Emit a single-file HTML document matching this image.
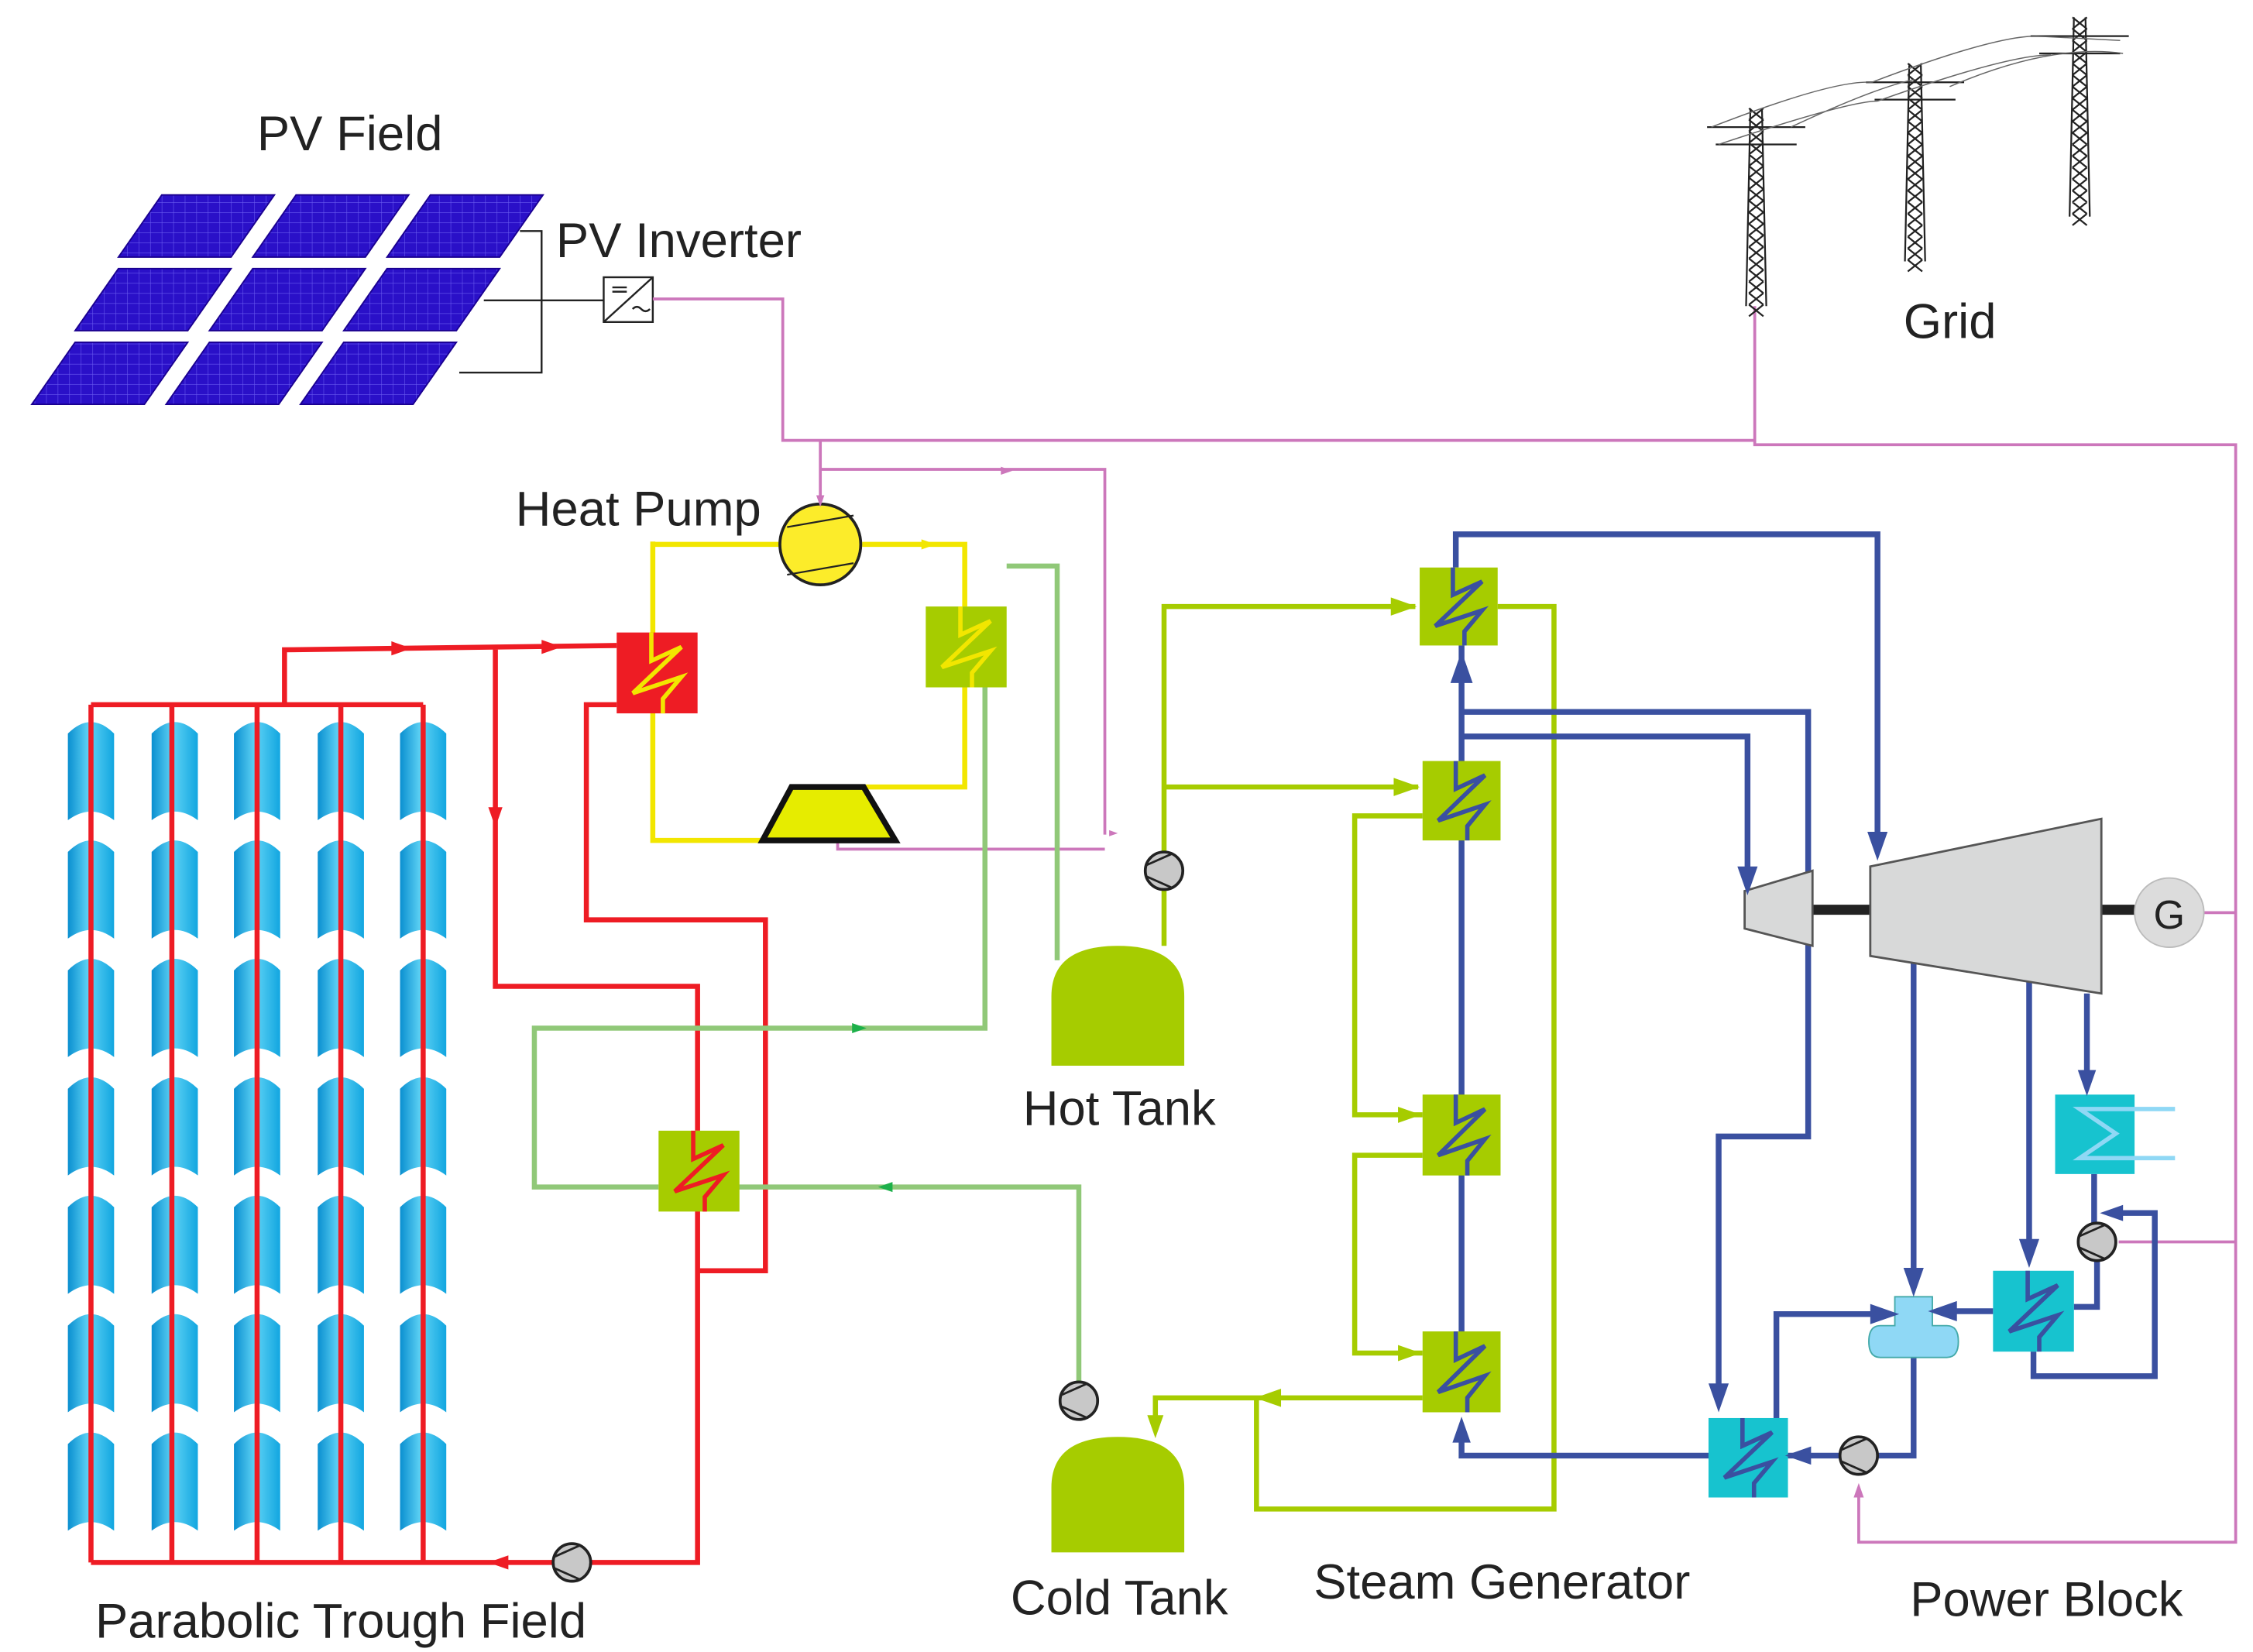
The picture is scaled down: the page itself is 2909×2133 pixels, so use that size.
<!DOCTYPE html>
<html><head><meta charset="utf-8"><style>
html,body{margin:0;padding:0;background:#fff}
svg{display:block}
text{font-family:"Liberation Sans",sans-serif;fill:#222}
</style></head><body>
<svg id="s" xmlns="http://www.w3.org/2000/svg" width="2909" height="2133" viewBox="0 0 1560 1144" preserveAspectRatio="none">
<defs>
<linearGradient id="tg" x1="0" x2="1" y1="0" y2="0">
<stop offset="0" stop-color="#0a8fd0"/><stop offset="0.45" stop-color="#5fd3f5"/><stop offset="1" stop-color="#12a6e0"/>
</linearGradient>
<pattern id="pv" width="8" height="7" patternUnits="userSpaceOnUse">
<rect width="8" height="7" fill="#2a10c8"/><path d="M0 0H8M0 0V7" stroke="#6a5cf0" stroke-width="0.6"/>
</pattern>
</defs>
<g id="troughs"></g>
<g id="panels"></g>

<!-- PV wiring -->
<g stroke="#222" stroke-width="1.3" fill="none">
<path d="M360 160H375V258H318M335 208H418"/>
<rect x="418" y="192" width="34" height="31" fill="#fff"/>
<path d="M418 223L452 192M424 199h10M424 202h10M438 214q3-3 6 0q3 3 6 0"/>
</g>
<text x="385" y="178" font-size="34">PV Inverter</text>
<text x="178" y="104" font-size="34">PV Field</text>

<!-- pink power lines -->
<g stroke="#cc77bb" stroke-width="2" fill="none">
<path d="M452 207H542V305H1215V212M1215 305V308H1548V1068H1287V1032M1548 632H1525M1548 860H1467"/>
<path d="M568 305V345M568 325H765V578M580 580V588H765"/>
</g>

<!-- Grid towers -->
<g id="towers" stroke="#222" stroke-width="1.2" fill="none"></g>
<text x="1318" y="234" font-size="34">Grid</text>

<!-- red circuit -->
<g stroke="#ee1c24" stroke-width="3.5" fill="none">
<path d="M63 488H293M63 488V1082M119 488V1082M178 488V1082M236 488V1082M293 488V1082M63 1082H483V838M483 783V683H343V448M197 488V450L427 447"/>
<path d="M427 488H406V637H530V880H483"/>
</g>
<!-- yellow heat pump -->
<g stroke="#f2e600" stroke-width="3.5" fill="none">
<path d="M452 375V582H528M540 377H452M597 377H668V420M668 476V545H598"/>
</g>
<!-- light green -->
<g stroke="#90c878" stroke-width="3.5" fill="none">
<path d="M697 392H732V665M682 476V712H370V822H456M511 822H747V958"/>
</g>
<!-- lime -->
<g stroke="#a6cc00" stroke-width="3.5" fill="none">
<path d="M806 655V616M806 590V420H980M806 545H982M1037 420H1076V1045H870V968M985 968H800V990M985 565H938V772H985M985 800H938V937H985"/>
</g>
<!-- blue -->
<g stroke="#3a50a0" stroke-width="4" fill="none">
<path d="M1012 470V493H1252V787H1190V970M1012 510H1210V612M1008 393V370H1300V588M1012 990V1008H1183M1238 1008H1275M1300 1008H1325V940M1012 447V975"/>
<path d="M1325 665V890M1405 680V870M1445 688V752M1450 813V848M1452 872V905H1436M1380 908H1345M1230 982V910H1305M1408 936V953H1492V840H1462"/>
</g>
<!-- shaft -->
<path d="M1255 630H1295M1455 630H1478" stroke="#222" stroke-width="7"/>
<!-- turbines -->
<polygon points="1208,617 1255,603 1255,655 1208,643" fill="#d8d9d9" stroke="#555" stroke-width="1.5"/>
<polygon points="1295,600 1455,567 1455,688 1295,662" fill="#d8d9d9" stroke="#555" stroke-width="1.5"/>
<circle cx="1502" cy="632" r="24" fill="#dcdcdc" stroke="#bbb"/>
<text x="1502" y="643" font-size="28" text-anchor="middle">G</text>

<!-- Heat exchangers -->
<g id="hx"></g>
<!-- heat pump parts -->
<circle cx="568" cy="377" r="28" fill="#fcec2a" stroke="#222" stroke-width="2"/>
<path d="M545 365L591 357M545 398L591 390" stroke="#222" stroke-width="1.2"/>
<polygon points="528,582 548,545 598,545 620,582" fill="#e6ec00" stroke="#111" stroke-width="4"/>

<!-- tanks -->
<path d="M728 738V690Q728 655 774 655Q820 655 820 690V738Z" fill="#a6cc00"/>
<path d="M728 1075V1030Q728 995 774 995Q820 995 820 1030V1075Z" fill="#a6cc00"/>
<!-- deaerator -->
<path d="M1312 898h26v20h10q8 0 8 11q0 11-8 11h-46q-8 0-8-11q0-11 8-11h10z" fill="#8fd8f5" stroke="#4aa" stroke-width="1"/>
<!-- condenser extras -->
<path d="M1478 768H1506M1478 802H1506" stroke="#8fd8f5" stroke-width="3"/>

<g id="pumps"></g>
<g id="arrows"></g>

<text x="442" y="364" font-size="34" text-anchor="middle">Heat Pump</text>
<text x="775" y="779" font-size="34" text-anchor="middle">Hot Tank</text>
<text x="775" y="1118" font-size="34" text-anchor="middle">Cold Tank</text>
<text x="1040" y="1107" font-size="34" text-anchor="middle">Steam Generator</text>
<text x="1417" y="1119" font-size="34" text-anchor="middle">Power Block</text>
<text x="236" y="1134" font-size="34" text-anchor="middle">Parabolic Trough Field</text>
</svg>
<script>
const NS="http://www.w3.org/2000/svg";
function el(p,t,a){const e=document.createElementNS(NS,t);for(const k in a)e.setAttribute(k,a[k]);document.getElementById(p).appendChild(e);return e;}
// troughs
[63,121,178,236,293].forEach(cx=>{for(let r=0;r<7;r++){const x=cx-16,y=500+r*82;
el("troughs","path",{d:`M${x} ${y+8}Q${x+16} ${y-8} ${x+32} ${y+8}L${x+32} ${y+68}Q${x+16} ${y+56} ${x} ${y+68}Z`,fill:"url(#tg)"});}});
// panels
for(let r=0;r<3;r++){for(let c=0;c<3;c++){const tx=112+c*93-r*30,ty=135+r*51;
el("panels","polygon",{points:`${tx},${ty} ${tx+78},${ty} ${tx+48},${ty+43} ${tx-30},${ty+43}`,fill:"url(#pv)",stroke:"#1a0090","stroke-width":"1"});}}
// towers
[[1216,75,212],[1326,44,181],[1440,12,150]].forEach(([x,t,b])=>{
let d=`M${x-4} ${t}L${x-7} ${b}M${x+4} ${t}L${x+7} ${b}M${x-34} ${t+13}H${x+34}M${x-28} ${t+25}H${x+28}`;
for(let y=t;y<b;y+=8){d+=`M${x-5} ${y}L${x+5} ${y+8}M${x+5} ${y}L${x-5} ${y+8}`;}
el("towers","path",{d});});
el("towers","path",{d:"M1185 88Q1270 55 1296 57M1190 100Q1280 70 1300 70M1240 88Q1300 60 1326 55M1296 57Q1380 25 1410 25M1300 70Q1390 38 1420 38M1350 60Q1420 30 1470 37M1410 25L1468 28",stroke:"#666","stroke-width":"0.8"});
// heat exchangers
function hx(x,y,w,h,fill,z){el("hx","rect",{x,y,width:w,height:h,fill});
el("hx","path",{d:`M${x+w/2-4} ${y}V${y+h*0.35}L${x+w*0.8} ${y+h*0.18}L${x+w*0.2} ${y+h*0.75}L${x+w*0.8} ${y+h*0.55}L${x+w/2+4} ${y+h*0.82}V${y+h}`,fill:"none",stroke:z,"stroke-width":"3"});}
hx(427,438,56,56,"#ee1c24","#f2e600");
hx(641,420,56,56,"#a6cc00","#f2e600");
hx(456,783,56,56,"#a6cc00","#ee1c24");
hx(983,393,54,54,"#a6cc00","#3a50a0");
hx(985,527,54,55,"#a6cc00","#3a50a0");
hx(985,758,54,56,"#a6cc00","#3a50a0");
hx(985,922,54,56,"#a6cc00","#3a50a0");
hx(1183,982,55,55,"#17c3cf","#3a50a0");
hx(1380,880,56,56,"#17c3cf","#3a50a0");
el("hx","rect",{x:1423,y:758,width:55,height:55,fill:"#17c3cf"});
el("hx","path",{d:"M1478 768H1440L1465 785L1440 802H1478",fill:"none",stroke:"#8fd8f5","stroke-width":"3"});
// pumps
[[396,1082],[806,603],[747,970],[1287,1008],[1452,860]].forEach(([x,y])=>{
el("pumps","circle",{cx:x,cy:y,r:13,fill:"#c8c8c8",stroke:"#222","stroke-width":"2"});
el("pumps","path",{d:`M${x-12} ${y-4}L${x+6} ${y-12}M${x-12} ${y+4}L${x+6} ${y+12}`,stroke:"#222","stroke-width":"1.5"});});
// arrows
function ar(x,y,dir,c,s){s=s||7;const m={r:[[s,0],[-s,-s*0.7],[-s,s*0.7]],l:[[-s,0],[s,-s*0.7],[s,s*0.7]],d:[[0,s],[-s*0.7,-s],[s*0.7,-s]],u:[[0,-s],[-s*0.7,s],[s*0.7,s]]}[dir];
el("arrows","polygon",{points:m.map(p=>(x+p[0])+","+(y+p[1])).join(" "),fill:c});}
const R="#ee1c24",B="#3a50a0",L="#a6cc00",G="#1db04a",P="#cc77bb";
ar(278,449,"r",R);ar(382,448,"r",R);ar(343,566,"d",R);ar(345,1082,"l",R);
ar(643,377,"r","#f2e600",5);
ar(595,712,"r",G,5);ar(613,822,"l",G,5);
ar(972,420,"r",L,9);ar(974,545,"r",L,9);ar(878,968,"l",L,9);ar(800,988,"d",L,8);ar(976,772,"r",L,8);ar(976,937,"r",L,8);
ar(1012,462,"u",B,11);ar(1210,610,"d",B,10);ar(1300,586,"d",B,10);ar(1190,968,"d",B,10);ar(1012,990,"u",B,9);
ar(1325,888,"d",B,10);ar(1405,868,"d",B,10);ar(1445,750,"d",B,9);ar(1345,908,"l",B,10);ar(1305,910,"r",B,10);ar(1245,1008,"l",B,9);ar(1462,840,"l",B,8);
ar(568,347,"d",P,4);ar(697,326,"r",P,4);ar(771,577,"r",P,3);ar(1287,1032,"u",P,5);
</script>
</body></html>
